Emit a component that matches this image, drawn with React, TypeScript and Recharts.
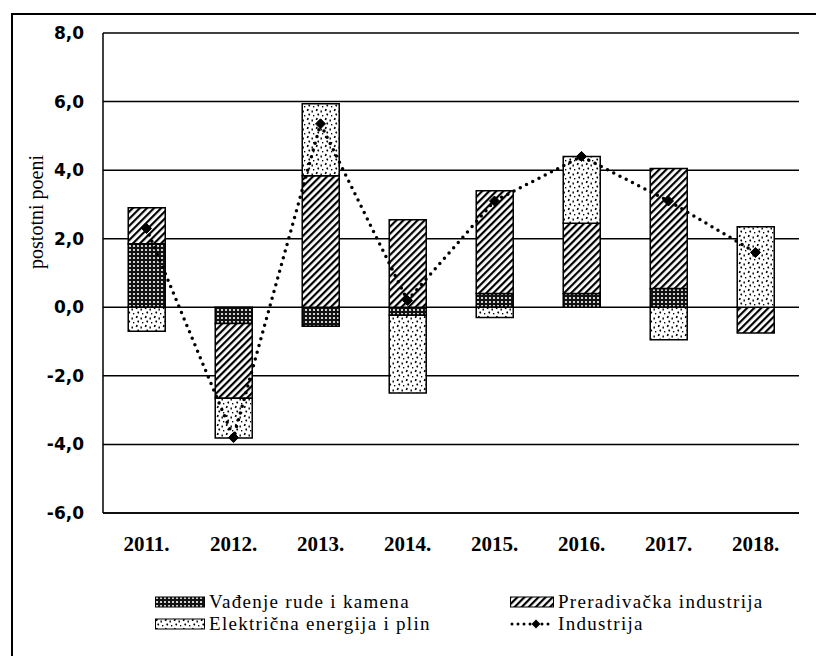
import React from 'react';
import { ComposedChart, Bar, Line, XAxis, YAxis, CartesianGrid, Legend } from 'recharts';

const years = ['2011.', '2012.', '2013.', '2014.', '2015.', '2016.', '2017.', '2018.'];
const vadenje = [1.85, -0.47, -0.55, -0.23, 0.4, 0.4, 0.55, 0.0];
const preradivacka = [1.05, -2.18, 3.84, 2.55, 3.0, 2.05, 3.5, -0.75];
const elektricna = [-0.7, -1.16, 2.1, -2.27, -0.3, 1.95, -0.95, 2.35];
const industrija = [2.3, -3.8, 5.35, 0.2, 3.1, 4.4, 3.1, 1.6];
const yTicks = [-6, -4, -2, 0, 2, 4, 6, 8];

const names = {
  v: 'Vađenje rude i kamena',
  p: 'Preradivačka industrija',
  e: 'Električna energija i plin',
  i: 'Industrija',
};

const data = years.map((y, k) => ({
  year: y,
  v: vadenje[k],
  p: preradivacka[k],
  e: elektricna[k],
  i: industrija[k],
}));

const Diamond = (props: any) => {
  const { cx, cy } = props;
  if (cx == null || cy == null) return null;
  const s = 5;
  return (
    <polygon
      points={`${cx},${cy - s} ${cx + s},${cy} ${cx},${cy + s} ${cx - s},${cy}`}
      fill="#000"
      stroke="#000"
      strokeWidth={1}
    />
  );
};

const Patterns = () => (
  <defs>
    <pattern id="patV" width="4" height="4" patternUnits="userSpaceOnUse">
      <rect width="4" height="4" fill="#111" />
      <circle cx="2" cy="2" r="1.1" fill="#fff" />
    </pattern>
    <pattern id="patP" width="5" height="5" patternUnits="userSpaceOnUse" patternTransform="rotate(45)">
      <rect width="5" height="5" fill="#fff" />
      <line x1="1" y1="0" x2="1" y2="5" stroke="#000" strokeWidth="2.4" />
    </pattern>
    <pattern id="patE" width="9" height="9" patternUnits="userSpaceOnUse">
      <rect width="9" height="9" fill="#fff" />
      <rect x="1" y="1" width="1.6" height="2.2" fill="#000" transform="rotate(20 2 2)" />
      <rect x="5.5" y="2.5" width="1.4" height="2" fill="#000" />
      <rect x="2.5" y="5.5" width="1.5" height="2" fill="#000" transform="rotate(-25 3.2 6.5)" />
      <rect x="7" y="7" width="1.3" height="1.4" fill="#000" />
    </pattern>
  </defs>
);

const serifFont = 'Liberation Serif, DejaVu Serif, serif';

const LegendSwatch = ({ fill, w }: { fill: string; w: number }) => (
  <svg width={w} height={12} style={{ display: 'block', marginRight: 4, flex: 'none' }}>
    <rect x={0.5} y={1} width={w - 1} height={10} fill={fill} stroke="#000" strokeWidth={1} />
  </svg>
);

const LegendLineIcon = () => (
  <svg width={44} height={12} style={{ display: 'block', marginRight: 4, flex: 'none' }}>
    <line x1={2} y1={6} x2={42} y2={6} stroke="#000" strokeWidth={3} strokeDasharray="0 6" strokeLinecap="round" />
    <polygon points="26,1.5 30.5,6 26,10.5 21.5,6" fill="#000" />
  </svg>
);

const renderLegend = () => {
  const item = (icon: React.ReactNode, label: string) => (
    <div style={{ display: 'flex', alignItems: 'center', height: 22, whiteSpace: 'nowrap' }}>
      {icon}
      <span>{label}</span>
    </div>
  );
  return (
    <div
      style={{
        display: 'grid',
        gridTemplateColumns: '355px 306px',
        paddingLeft: 155,
        fontFamily: serifFont,
        fontSize: 19,
        letterSpacing: '1.3px',
        color: '#000',
        lineHeight: '22px',
        textAlign: 'left',
      }}
    >
      {item(<LegendSwatch fill="url(#patV)" w={50} />, names.v)}
      {item(<LegendSwatch fill="url(#patP)" w={44} />, names.p)}
      {item(<LegendSwatch fill="url(#patE)" w={50} />, names.e)}
      {item(<LegendLineIcon />, names.i)}
    </div>
  );
};

const YLabel = () => (
  <text
    x={38}
    y={212}
    transform="rotate(-90 38 212)"
    textAnchor="middle"
    dominantBaseline="middle"
    fontFamily={serifFont}
    fontSize={20}
    fill="#000"
  >
    postotni poeni
  </text>
);

export default function App() {
  return (
    <div style={{ position: 'absolute', left: 0, top: 0, width: 816, height: 656, background: '#fff', overflow: 'hidden' }}>
      <div
        style={{
          position: 'absolute',
          left: 11,
          top: 13,
          width: 820,
          height: 660,
          borderTop: '2px solid #000',
          borderLeft: '2px solid #000',
        }}
      />
      <ComposedChart
        width={816}
        height={656}
        data={data}
        stackOffset="sign"
        barCategoryGap="29%"
        margin={{ top: 33, right: 17, left: 0, bottom: 43 }}
        style={{ position: 'absolute', left: 0, top: 0 }}
      >
        <Patterns />
        <CartesianGrid vertical={false} stroke="#000" strokeWidth={1.5} />
        <XAxis
          dataKey="year"
          height={40}
          tickLine={false}
          tickSize={0}
          tickMargin={23}
          axisLine={{ stroke: '#000', strokeWidth: 1.5 }}
          tick={{ fill: '#000', fontSize: 21, fontWeight: 'bold', fontFamily: serifFont }}
          interval={0}
        />
        <YAxis
          width={103}
          domain={[-6, 8]}
          ticks={yTicks}
          interval={0}
          tickLine={false}
          tickSize={0}
          tickMargin={19}
          axisLine={{ stroke: '#000', strokeWidth: 1.5 }}
          tickFormatter={(v: number) => v.toFixed(1).replace('.', ',')}
          tick={{ fill: '#000', fontSize: 17, fontWeight: 'bold', fontFamily: 'DejaVu Sans, sans-serif' }}
          label={{ content: () => <YLabel /> }}
        />
        <YAxis
          yAxisId="right"
          orientation="right"
          width={0}
          domain={[-6, 8]}
          tick={false}
          tickLine={false}
          axisLine={{ stroke: '#000', strokeWidth: 1.5 }}
        />
        <Bar dataKey="v" name={names.v} stackId="s" fill="url(#patV)" stroke="#000" strokeWidth={1.5} isAnimationActive={false} />
        <Bar dataKey="p" name={names.p} stackId="s" fill="url(#patP)" stroke="#000" strokeWidth={1.5} isAnimationActive={false} />
        <Bar dataKey="e" name={names.e} stackId="s" fill="url(#patE)" stroke="#000" strokeWidth={1.5} isAnimationActive={false} />
        <Line
          dataKey="i"
          name={names.i}
          type="linear"
          stroke="#000"
          strokeWidth={3.5}
          strokeDasharray="0 7"
          strokeLinecap="round"
          dot={<Diamond />}
          activeDot={false}
          isAnimationActive={false}
        />
        <Legend
          content={renderLegend}
          verticalAlign="bottom"
          height={60}
          wrapperStyle={{ top: 591, bottom: 'auto', left: 0, width: 816, height: 60 }}
        />
      </ComposedChart>
    </div>
  );
}
